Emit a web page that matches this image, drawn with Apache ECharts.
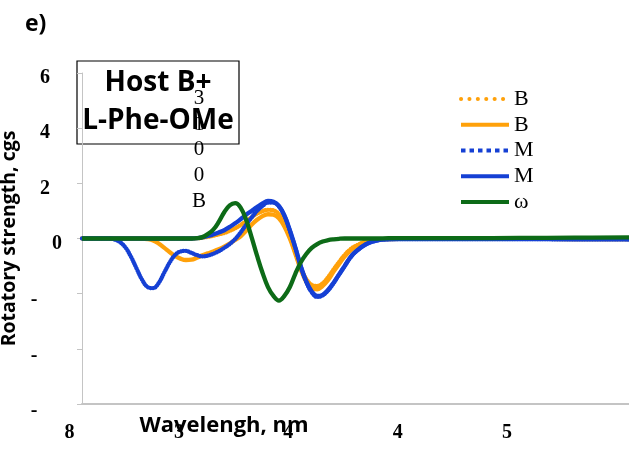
<!DOCTYPE html>
<html>
<head>
<meta charset="utf-8">
<script src="https://cdn.jsdelivr.net/npm/echarts@6/dist/echarts.min.js"></script>
<style>
  html, body { margin: 0; padding: 0; background: #ffffff; }
  #chart { width: 629px; height: 449px; }
</style>
</head>
<body>
<div id="chart"></div>
<script>
// Wavelength grid (nm) shared by every spectrum
const wavelength = [200, 210, 220, 225, 230, 235, 240, 245, 250, 255, 260, 265, 270, 275, 280, 285, 290, 295,
  300, 305, 310, 315, 320, 325, 330, 335, 340, 345, 350, 355, 360, 365, 370, 375, 380, 385, 390, 395,
  400, 405, 410, 415, 420, 425, 430, 435, 440, 445, 450, 460, 470, 480, 490, 500, 550, 600, 650, 700];

// Rotatory strength (cgs) per spectrum
const bDotted = [0, 0, 0, 0, 0, 0, 0, 0, 0, 0, 0, 0, 0, 0, 0, 0, 0, 0,
  0, 0.01, 0.03, 0.06, 0.10, 0.15, 0.20, 0.28, 0.37, 0.49, 0.63, 0.77, 0.90, 0.99, 1.04, 1.02, 0.88, 0.55, 0.06, -0.50,
  -1.06, -1.47, -1.68, -1.72, -1.62, -1.40, -1.12, -0.85, -0.60, -0.40, -0.27, -0.10, -0.04, -0.02, -0.01, -0.01, -0.01, -0.01, -0.02, -0.02];

const bSolid = [0, 0, 0, 0, 0, 0, 0, 0, 0, 0, -0.02, -0.07, -0.18, -0.33, -0.49, -0.63, -0.73, -0.78,
  -0.77, -0.70, -0.61, -0.54, -0.47, -0.39, -0.30, -0.18, -0.05, 0.08, 0.28, 0.50, 0.68, 0.81, 0.88, 0.86, 0.73, 0.44, 0.00, -0.55,
  -1.12, -1.57, -1.80, -1.84, -1.72, -1.50, -1.20, -0.92, -0.66, -0.45, -0.30, -0.11, -0.04, -0.02, -0.01, -0.01, -0.01, -0.01, -0.02, -0.02];

const mDotted = [0, 0, 0, 0, -0.04, -0.14, -0.34, -0.68, -1.10, -1.50, -1.76, -1.80, -1.62, -1.25, -0.88, -0.60, -0.47, -0.45,
  -0.52, -0.60, -0.65, -0.62, -0.55, -0.46, -0.34, -0.20, -0.02, 0.22, 0.50, 0.76, 1.00, 1.18, 1.30, 1.30, 1.16, 0.82, 0.28, -0.34,
  -1.02, -1.58, -1.95, -2.12, -2.06, -1.88, -1.62, -1.31, -1.01, -0.71, -0.49, -0.20, -0.07, -0.03, -0.02, -0.02, -0.02, -0.02, -0.03, -0.03];

const mSolid = [0, 0, 0, 0, 0, 0, 0, 0, 0, 0, 0, 0, 0, 0, 0, 0, 0, 0,
  0, 0.01, 0.04, 0.09, 0.15, 0.22, 0.30, 0.42, 0.55, 0.70, 0.86, 1.00, 1.14, 1.27, 1.36, 1.33, 1.18, 0.84, 0.30, -0.32,
  -1.00, -1.55, -1.92, -2.08, -2.04, -1.86, -1.60, -1.30, -1.00, -0.70, -0.48, -0.20, -0.07, -0.03, -0.02, -0.02, -0.02, -0.02, -0.03, -0.03];

const omega = [0, 0, 0, 0, 0, 0, 0, 0, 0, 0, 0, 0, 0, 0, 0, 0, 0, 0,
  0, 0.01, 0.05, 0.16, 0.32, 0.60, 0.95, 1.20, 1.28, 1.12, 0.68, 0.05, -0.62, -1.24, -1.76, -2.08, -2.25, -2.08, -1.76, -1.28,
  -0.86, -0.56, -0.34, -0.20, -0.11, -0.06, -0.03, -0.01, 0, 0, 0, 0, 0, 0.01, 0.01, 0.01, 0.01, 0.02, 0.03, 0.04];

// Legend entries and their displayed labels
const seriesKeys = ['B-dot', 'B-line', 'M-dot', 'M-line', 'omega'];
const legendLabels = ['B', 'B', 'M', 'M', 'ω'];

// Axis tick labels
const xTickValues = [200, 300, 400, 500, 600];
const xTickLabels = ['8', '3', '4', '4', '5'];
const yTickValues = [-6, -4, -2, 0, 2, 4, 6];
const yTickLabels = ['-', '-', '-', '0', '2', '4', '6'];

const ORANGE = '#ffa10a';
const BLUE = '#1540d4';
const GREEN = '#0d6b17';

const serif = '"Liberation Serif", "Times New Roman", serif';
const sans = '"Open Sans", "Liberation Sans", sans-serif';

function pairs(values) {
  return wavelength.map((w, i) => [w, values[i]]);
}

const labelOf = {};
seriesKeys.forEach((k, i) => { labelOf[k] = legendLabels[i]; });

const plotDots = { type: [0.1, 2.4], cap: 'round' };
const noMarker = { opacity: 0 };

const chart = echarts.init(document.getElementById('chart'), null, { renderer: 'canvas' });

chart.setOption({
  animation: false,
  backgroundColor: '#ffffff',
  grid: { left: 82, right: 0, top: 73, bottom: 45, containLabel: false, outerBoundsMode: 'none' },
  xAxis: {
    type: 'value',
    min: 200,
    max: 700,
    interval: 100,
    axisLine: { show: true, onZero: false, lineStyle: { color: '#c4c4c4', width: 2 } },
    axisTick: { show: false },
    splitLine: { show: false },
    axisLabel: {
      margin: 19,
      formatter: function (v) {
        const i = xTickValues.indexOf(v);
        return i < 0 ? '' : '{t|' + xTickLabels[i] + '}';
      },
      rich: {
        t: { fontFamily: serif, fontWeight: 'bold', fontSize: 20, color: '#000', padding: [0, 25, 0, 0] }
      }
    }
  },
  yAxis: {
    type: 'value',
    min: -6,
    max: 6,
    interval: 2,
    name: 'Rotatory strength, cgs',
    nameLocation: 'middle',
    nameGap: 62,
    nameRotate: 90,
    nameTextStyle: { fontFamily: sans, fontWeight: 'bold', fontSize: 19.5, color: '#000' },
    axisLine: { show: true, lineStyle: { color: '#c4c4c4', width: 1 } },
    axisTick: { show: true, length: 5, lineStyle: { color: '#c4c4c4' } },
    splitLine: { show: false },
    axisLabel: {
      margin: 37,
      align: 'center',
      formatter: function (v) {
        const i = yTickValues.indexOf(v);
        const t = yTickLabels[i];
        if (v < 0) return '{neg|' + t + '}';
        if (v === 0) return '{zero|' + t + '}';
        return '{pos|' + t + '}';
      },
      rich: {
        pos: { fontFamily: serif, fontWeight: 'bold', fontSize: 20, color: '#000', padding: [10, 0, 0, 0] },
        zero: { fontFamily: serif, fontWeight: 'bold', fontSize: 20, color: '#000', padding: [10, 0, 0, 24] },
        neg: { fontFamily: serif, fontWeight: 'bold', fontSize: 20, color: '#000', padding: [13, 22, 0, 0] }
      }
    }
  },
  legend: {
    orient: 'vertical',
    left: 459,
    top: 88,
    padding: 0,
    itemWidth: 48,
    itemHeight: 14,
    itemGap: 3.75,
    itemStyle: noMarker,
    textStyle: { fontFamily: serif, fontSize: 22, color: '#000', lineHeight: 22 },
    formatter: function (name) { return labelOf[name]; },
    data: [
      { name: seriesKeys[0], itemStyle: noMarker, lineStyle: { type: [0.1, 8.3], cap: 'round', width: 4 } },
      { name: seriesKeys[1], itemStyle: noMarker, lineStyle: { type: 'solid', width: 4 } },
      { name: seriesKeys[2], itemStyle: noMarker, lineStyle: { type: [4.5, 4], cap: 'butt', width: 4 } },
      { name: seriesKeys[3], itemStyle: noMarker, lineStyle: { type: 'solid', width: 4 } },
      { name: seriesKeys[4], itemStyle: noMarker, lineStyle: { type: 'solid', width: 4 } }
    ]
  },
  series: [
    { name: seriesKeys[0], type: 'line', data: pairs(bDotted), smooth: 0.4, symbol: 'none',
      lineStyle: Object.assign({ color: ORANGE, width: 4.3 }, plotDots), itemStyle: { color: ORANGE } },
    { name: seriesKeys[1], type: 'line', data: pairs(bSolid), smooth: 0.4, symbol: 'none',
      lineStyle: { color: ORANGE, width: 4.3 }, itemStyle: { color: ORANGE } },
    { name: seriesKeys[2], type: 'line', data: pairs(mDotted), smooth: 0.4, symbol: 'none',
      lineStyle: Object.assign({ color: BLUE, width: 4.3 }, plotDots), itemStyle: { color: BLUE } },
    { name: seriesKeys[3], type: 'line', data: pairs(mSolid), smooth: 0.4, symbol: 'none',
      lineStyle: { color: BLUE, width: 4.3 }, itemStyle: { color: BLUE } },
    { name: seriesKeys[4], type: 'line', data: pairs(omega), smooth: 0.4, symbol: 'none',
      lineStyle: { color: GREEN, width: 4.3 }, itemStyle: { color: GREEN } }
  ],
  graphic: [
    { type: 'text', left: 25, top: 13,
      style: { text: 'e)', fontFamily: sans, fontWeight: 'bold', fontSize: 23, fill: '#000' } },
    { type: 'rect', shape: { x: 77, y: 61, width: 162, height: 83 },
      style: { fill: 'none', stroke: '#000', lineWidth: 1.2 } },
    { type: 'text', x: 199, y: 85.5,
      style: { text: '3\n1\n0\n0\nB', fontFamily: serif, fontSize: 21, lineHeight: 25.7,
        fill: '#000', textAlign: 'center', textVerticalAlign: 'top', align: 'center', verticalAlign: 'top' } },
    { type: 'text', x: 158, y: 102,
      style: { text: 'Host B+\nL-Phe-OMe', fontFamily: sans, fontWeight: 'bold', fontSize: 28, lineHeight: 38,
        fill: '#000', textAlign: 'center', textVerticalAlign: 'middle', align: 'center', verticalAlign: 'middle' } },
    { type: 'text', x: 224, y: 426,
      style: { text: 'Wavelengh, nm', fontFamily: sans, fontWeight: 'bold', fontSize: 22,
        fill: '#000', textAlign: 'center', textVerticalAlign: 'middle', align: 'center', verticalAlign: 'middle' } }
  ]
});
</script>
</body>
</html>
